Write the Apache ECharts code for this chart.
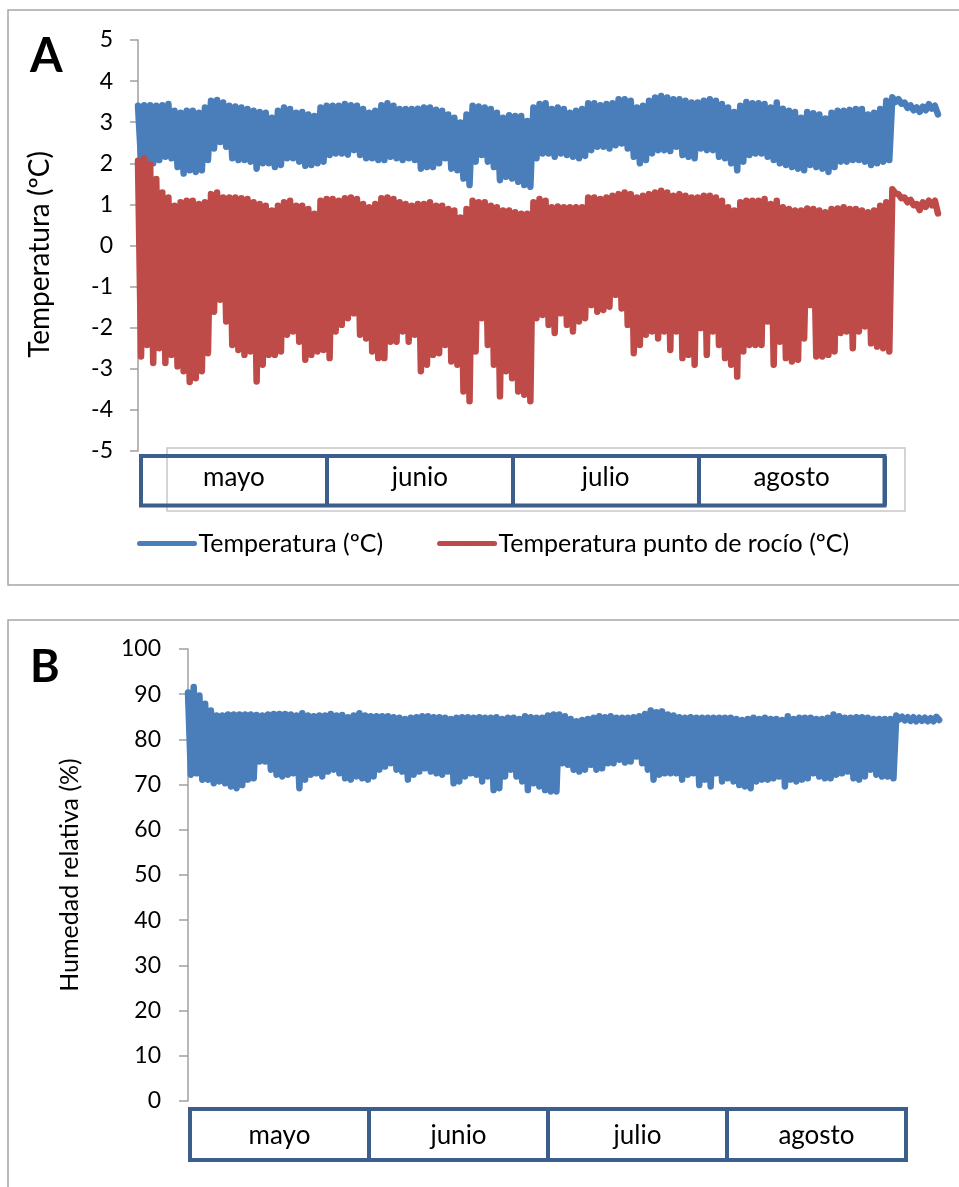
<!DOCTYPE html>
<html>
<head>
<meta charset="utf-8">
<script src="https://cdn.jsdelivr.net/npm/echarts@6/dist/echarts.min.js"></script>
<style>
  html, body { margin: 0; padding: 0; background: #ffffff; }
  #chart { width: 959px; height: 1187px; }
</style>
</head>
<body>
<div id="chart"></div>
<script>
// Month cells shown under each panel
const months = ['mayo', 'junio', 'julio', 'agosto'];

// Daily maximum / minimum air temperature (ºC), day 0 = 1 May
const tempMax = [
  3.40,3.41,3.41,3.40,3.41,3.44,3.28,3.23,3.28,3.28,3.23,3.36,3.52,3.54,3.48,3.40,3.38,3.36,3.32,3.28,
  3.25,3.23,3.11,3.28,3.36,3.32,3.23,3.25,3.19,3.15,3.36,3.40,3.40,3.40,3.44,3.41,3.40,3.32,3.23,3.28,
  3.41,3.46,3.40,3.32,
  3.32,3.32,3.33,3.36,3.36,3.30,3.28,3.19,3.11,2.99,3.19,3.40,3.38,3.36,3.32,3.23,3.11,3.17,3.15,3.15,
  3.03,3.36,3.44,3.46,3.32,3.36,3.32,3.23,3.28,3.32,3.46,3.46,3.41,3.44,3.46,3.56,3.56,3.52,3.36,3.40,
  3.52,3.60,3.64,3.60,
  3.56,3.56,3.52,3.48,3.48,3.52,3.56,3.52,3.44,3.36,3.25,3.40,3.49,3.46,3.46,3.44,3.36,3.48,3.33,3.28,
  3.25,3.11,3.25,3.22,3.19,3.09,3.23,3.28,3.28,3.30,3.32,3.32,3.19,3.23,3.32,3.52,
  3.61,3.56,3.48,3.41,3.36,3.38,3.44,3.40
];
const tempMin = [
  2.08,2.08,2.00,2.08,2.16,2.12,1.91,1.75,1.83,1.79,1.83,2.08,2.36,2.52,2.40,2.12,2.08,2.08,2.04,1.87,
  2.00,2.00,1.91,1.96,2.12,2.12,2.04,1.94,1.96,2.00,2.04,2.20,2.24,2.24,2.21,2.32,2.20,2.12,2.12,2.08,
  2.08,2.16,2.12,2.08,
  2.12,2.08,1.87,1.91,1.91,2.00,2.12,1.87,1.83,1.63,1.47,2.04,2.20,2.04,1.91,1.59,1.67,1.63,1.55,1.47,
  1.43,2.12,2.24,2.24,2.16,2.24,2.20,2.16,2.12,2.18,2.32,2.40,2.40,2.36,2.44,2.48,2.36,2.16,2.00,2.08,
  2.24,2.32,2.32,2.30,
  2.40,2.20,2.16,2.12,2.36,2.32,2.32,2.16,2.12,2.00,1.83,2.04,2.20,2.24,2.24,2.16,2.08,2.00,1.96,1.91,
  1.87,1.83,1.96,1.91,1.87,1.79,1.91,2.04,2.04,2.08,2.08,2.04,1.96,2.00,2.04,2.08,
  3.49,3.45,3.35,3.29,3.25,3.29,3.33,3.19
];

// Daily maximum / minimum dew-point temperature (ºC)
const dewMax = [
  2.06,2.12,1.98,1.62,1.29,1.17,0.97,1.05,1.09,1.09,1.01,1.05,1.25,1.29,1.17,1.17,1.17,1.15,1.13,1.05,
  1.01,0.97,0.85,0.97,1.05,1.09,0.97,0.97,0.89,0.77,1.09,1.13,1.13,1.09,1.15,1.17,1.13,1.01,0.93,1.01,
  1.15,1.17,1.13,1.05,
  1.01,0.97,1.01,1.01,1.05,0.97,0.97,0.89,0.85,0.68,0.89,1.09,1.05,1.05,0.97,0.93,0.85,0.85,0.81,0.77,
  0.77,1.05,1.13,1.09,0.93,0.95,0.93,0.93,0.93,0.93,1.17,1.17,1.13,1.17,1.21,1.25,1.29,1.25,1.17,1.21,
  1.25,1.29,1.33,1.29,
  1.21,1.25,1.21,1.17,1.17,1.21,1.21,1.17,1.09,0.93,0.85,1.05,1.09,1.09,1.09,1.13,1.01,1.09,0.93,0.89,
  0.85,0.85,0.90,0.89,0.85,0.81,0.89,0.90,0.93,0.89,0.89,0.85,0.81,0.85,0.97,1.05,
  1.37,1.25,1.17,1.11,1.01,1.05,1.09,1.09
];
const dewMin = [
  -2.70,-2.42,-2.86,-2.50,-2.86,-2.66,-2.94,-3.06,-3.32,-3.23,-3.06,-2.62,-1.61,-1.32,-1.85,-2.42,-2.54,-2.66,-2.58,-3.31,
  -2.90,-2.66,-2.66,-2.58,-2.17,-2.09,-2.34,-2.78,-2.66,-2.58,-2.54,-2.74,-2.09,-1.93,-1.77,-1.65,-2.17,-2.26,-2.58,-2.74,
  -2.74,-2.34,-2.34,-2.09,
  -2.34,-2.17,-3.06,-2.90,-2.66,-2.62,-2.42,-2.82,-2.90,-3.55,-3.79,-2.58,-1.77,-2.42,-2.90,-3.67,-3.06,-3.23,-3.55,-3.63,
  -3.79,-1.77,-1.69,-1.93,-2.13,-1.65,-1.93,-2.09,-1.85,-1.77,-1.45,-1.61,-1.57,-1.49,-1.20,-1.53,-1.93,-2.62,-2.42,-2.17,
  -2.09,-2.26,-2.09,-2.54,
  -2.09,-2.74,-2.66,-2.90,-2.01,-2.66,-2.09,-2.42,-2.74,-2.90,-3.19,-2.58,-2.42,-2.42,-2.42,-1.85,-2.90,-2.34,-2.74,-2.82,
  -2.78,-2.26,-1.45,-2.70,-2.70,-2.66,-2.58,-2.13,-2.09,-2.50,-2.09,-1.97,-2.38,-2.46,-2.50,-2.58,
  1.27,1.15,1.05,0.98,0.86,0.94,0.98,0.78
];

// Daily maximum / minimum relative humidity (%)
const rhMax = [
  90.4,91.6,89.7,87.9,86.4,85.3,85.3,85.5,85.5,85.5,85.5,85.5,85.4,85.3,85.5,85.6,85.6,85.6,85.5,85.3,
  85.8,85.3,85.1,85.3,85.3,85.6,85.3,85.4,84.9,85.3,85.8,85.3,85.1,85.1,85.1,85.1,84.9,84.8,84.5,84.8,
  84.9,85.1,85.1,84.9,84.9,84.8,84.5,84.8,84.9,84.9,84.8,84.9,84.8,84.8,84.9,84.5,84.8,84.8,84.5,85.1,
  84.9,84.8,84.8,85.3,85.5,
  85.5,85.1,84.5,84.0,84.3,84.5,84.8,85.1,84.9,85.1,84.8,84.8,84.8,84.9,85.1,85.6,86.4,86.0,86.2,85.5,
  85.3,84.9,84.8,84.9,84.8,84.8,84.8,84.8,84.8,84.8,84.8,84.5,84.3,84.5,84.8,84.5,84.8,84.5,84.5,84.3,
  85.1,84.5,84.8,84.8,84.8,84.5,84.5,84.8,85.5,85.1,84.8,84.8,84.9,84.9,84.8,84.5,84.5,84.5,84.5,
  85.3,85.0,84.9,84.9,84.8,84.8,84.7,85.0
];
const rhMin = [
  72.2,72.5,71.1,71.1,70.3,70.7,70.3,69.6,69.2,69.9,71.1,71.4,75.1,75.1,73.3,72.2,71.8,72.2,72.5,69.2,
  71.1,72.2,72.5,71.8,72.9,73.3,72.5,71.4,71.1,71.8,71.4,71.1,71.8,73.3,74.0,74.7,73.3,72.9,71.1,72.2,
  72.9,73.6,72.9,72.5,72.2,72.9,70.3,70.7,71.8,72.5,72.2,70.7,71.8,68.8,69.2,71.8,73.3,71.8,70.7,68.8,
  70.3,69.6,68.8,68.5,68.5,
  74.7,74.4,73.3,72.9,73.3,74.4,73.3,73.6,74.7,74.7,75.5,74.9,75.1,76.2,74.7,73.3,71.1,72.2,72.5,72.5,
  72.5,71.1,72.2,72.5,69.9,71.1,69.6,72.5,70.7,71.4,70.7,69.9,69.6,69.2,70.7,71.1,71.1,71.4,71.8,69.6,
  71.1,70.7,71.1,71.4,72.5,71.8,71.4,71.4,72.2,72.5,72.9,71.4,71.1,71.8,73.3,72.2,71.8,71.8,71.4,
  84.4,84.2,84.1,84.0,84.1,84.0,84.0,84.3
];

// Each day contributes its maximum then its minimum half a day later,
// so the line swings through the daily cycle.
function dailyCycle(hi, lo) {
  const pts = [];
  for (let i = 0; i < hi.length; i++) {
    pts.push([i, hi[i]]);
    pts.push([i + 0.5, lo[i]]);
  }
  return pts;
}

const BLUE = '#4A7EBB';
const RED = '#BE4B48';
const CELL = '#3B5E8C';
const AXIS = '#A0A0A0';
const FONT = 'Lato, "Open Sans", sans-serif';

const chart = echarts.init(document.getElementById('chart'), null, { renderer: 'canvas' });

// Month strip drawn as a boxed category axis
function tableAxis(gridIndex, margin) {
  return {
    type: 'category', gridIndex: gridIndex, data: months, boundaryGap: true,
    axisLine: { show: false }, axisTick: { show: false },
    splitLine: { show: true, interval: 0, lineStyle: { color: CELL, width: 4 } },
    axisLabel: { inside: true, margin: margin, verticalAlign: 'middle', interval: 0,
                 color: '#000', fontSize: 26, fontFamily: FONT }
  };
}

const lineSeries = (name, xi, yi, data, color) => ({
  name: name, type: 'line', xAxisIndex: xi, yAxisIndex: yi,
  data: data, showSymbol: false, symbol: 'none', color: color,
  lineStyle: { color: color, width: 6.5, join: 'round', cap: 'round' }
});

const option = {
  animation: false,
  backgroundColor: '#ffffff',
  textStyle: { fontFamily: FONT },
  grid: [
    { left: 138, top: 40, width: 803, height: 411, outerBoundsMode: 'none' },
    { left: 141, top: 456, width: 743.5, height: 49.5, show: true, borderColor: CELL, borderWidth: 4,
      backgroundColor: 'transparent', outerBoundsMode: 'none' },
    { left: 188, top: 649, width: 754, height: 452, outerBoundsMode: 'none' },
    { left: 190, top: 1109, width: 716, height: 51, show: true, borderColor: CELL, borderWidth: 4,
      backgroundColor: 'transparent', outerBoundsMode: 'none' }
  ],
  xAxis: [
    { type: 'value', gridIndex: 0, min: 0, max: 132, show: false },
    tableAxis(1, 28),
    { type: 'value', gridIndex: 2, min: 0, max: 132, show: false },
    tableAxis(3, 24)
  ],
  yAxis: [
    { type: 'value', gridIndex: 0, min: -5, max: 5, interval: 1,
      name: 'Temperatura (ºC)', nameLocation: 'middle', nameGap: 84, nameMoveOverlap: false,
      nameTextStyle: { fontSize: 28, color: '#000', fontFamily: FONT, padding: [0, 18, 0, 0] },
      axisLine: { show: true, lineStyle: { color: AXIS, width: 1.5 } },
      axisTick: { show: true, length: 8, lineStyle: { color: AXIS, width: 1.5 } },
      splitLine: { show: false },
      axisLabel: { margin: 25, color: '#000', fontSize: 23, fontFamily: FONT } },
    { type: 'value', gridIndex: 1, show: false },
    { type: 'value', gridIndex: 2, min: 0, max: 100, interval: 10,
      name: 'Humedad relativa (%)', nameLocation: 'middle', nameGap: 106, nameMoveOverlap: false,
      nameTextStyle: { fontSize: 25, color: '#000', fontFamily: FONT },
      axisLine: { show: true, lineStyle: { color: AXIS, width: 1.5 } },
      axisTick: { show: true, length: 9, lineStyle: { color: AXIS, width: 1.5 } },
      splitLine: { show: false },
      axisLabel: { margin: 27, color: '#000', fontSize: 23, fontFamily: FONT } },
    { type: 'value', gridIndex: 3, show: false }
  ],
  legend: {
    data: ['Temperatura (ºC)', 'Temperatura punto de rocío (ºC)'],
    left: 137, top: 531, padding: 0, itemWidth: 55, itemHeight: 6, itemGap: 54,
    textStyle: { color: '#000', fontSize: 25, fontFamily: FONT, padding: [0, 0, 0, -1] },
    lineStyle: { width: 5, cap: 'round' }
  },
  series: [
    lineSeries('Temperatura (ºC)', 0, 0, dailyCycle(tempMax, tempMin), BLUE),
    lineSeries('Temperatura punto de rocío (ºC)', 0, 0, dailyCycle(dewMax, dewMin), RED),
    lineSeries('Humedad relativa (%)', 2, 2, dailyCycle(rhMax, rhMin), BLUE)
  ],
  graphic: [
    { type: 'rect', z: -10, shape: { x: 8, y: 10, width: 960, height: 575 },
      style: { fill: 'none', stroke: '#A6A6A6', lineWidth: 1.5 } },
    { type: 'rect', z: -10, shape: { x: 8, y: 620, width: 960, height: 600 },
      style: { fill: 'none', stroke: '#A6A6A6', lineWidth: 1.5 } },
    { type: 'rect', z: -5, shape: { x: 167, y: 448, width: 738, height: 63 },
      style: { fill: 'none', stroke: '#C8C8C8', lineWidth: 1.5 } },
    { type: 'text', left: 30, top: 33,
      style: { text: 'A', fill: '#000', font: 'bold 47px ' + FONT } },
    { type: 'text', left: 30, top: 645,
      style: { text: 'B', fill: '#000', font: 'bold 45px ' + FONT } }
  ]
};

chart.setOption(option);
</script>
</body>
</html>
